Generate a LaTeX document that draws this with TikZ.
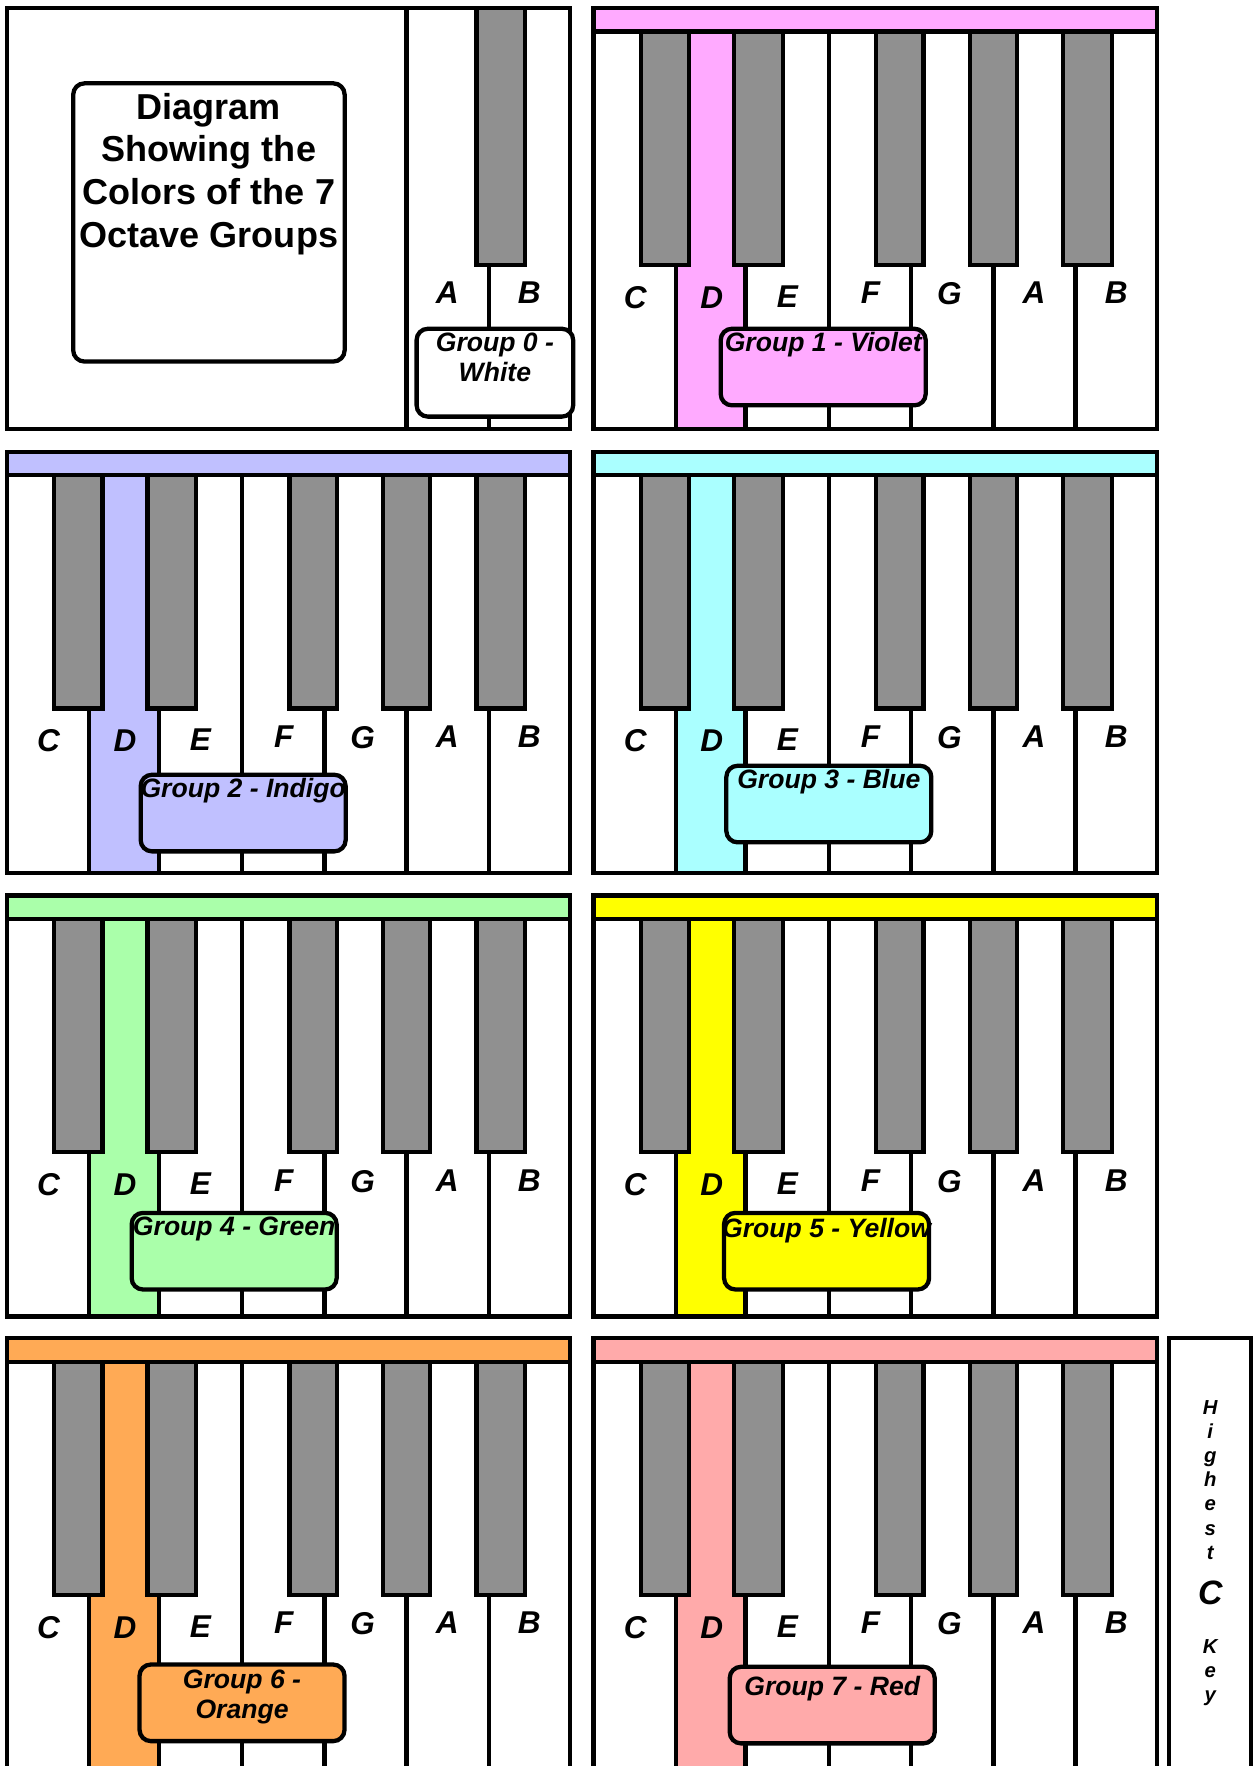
\documentclass[tikz,border=0pt]{standalone}
\usepackage{fontspec}
\setmainfont{Liberation Sans}
\usepackage{tikz}
\usetikzlibrary{positioning}

\definecolor{violetc}{HTML}{FFAAFF}
\definecolor{indigoc}{HTML}{C0C0FF}
\definecolor{bluec}{HTML}{AAFFFF}
\definecolor{greenc}{HTML}{AAFFAA}
\definecolor{yellowc}{HTML}{FFFF00}
\definecolor{orangec}{HTML}{FFAA55}
\definecolor{redc}{HTML}{FFAAAA}
\definecolor{keygray}{HTML}{909090}

\begin{document}
\begin{tikzpicture}[
  x=0.5pt, y=-0.5pt,
  ln/.style ={line width=1.9pt},
  bk/.style ={ln, fill=keygray},
  nt/.style ={font=\fontsize{14}{16}\selectfont\bfseries\itshape, inner sep=0pt},
  grp/.style={ln, rounded corners=5pt, anchor=north west, inner sep=0pt,
              minimum width=91pt, minimum height=34pt},
  gtxt/.style={font=\fontsize{11.8}{13.5}\selectfont\bfseries\itshape,
              align=center, inner sep=0pt},
  ttl/.style={font=\fontsize{16}{19}\selectfont\bfseries, align=center, inner sep=0pt},
  hk/.style ={font=\fontsize{9}{10.7}\selectfont\bfseries\itshape, align=center, inner sep=0pt}
]
\useasboundingbox (0,0) rectangle (1115,1568);
\fill[white] (0,0) rectangle (1115,1568);
\clip (0,0) rectangle (1115,1568);

%% group 0 panel (title + A, B)
\begin{scope}[shift={(6,7)}]
  \draw[ln, fill=white] (0,0) rectangle (500,374);
  \draw[ln] (355,0) -- (355,374);
  \draw[ln] (428,228) -- (428,374);
  \draw[bk] (417,0) rectangle (460,228);
  \node[nt] (p0-A) at (391,253) {A};
  \node[nt] (p0-B) at (464,253) {B};
  \node[ln, draw, fill=white, rounded corners=5pt, minimum width=120.5pt,
        minimum height=123.5pt] (ttlbox) at (179.5,190.5) {};
  \node[ttl, below=5pt of ttlbox.north] (ttl)
    {Diagram\\Showing the\\Colors of the 7\\Octave Groups};
  \node[grp, draw, fill=white, minimum width=69.5pt, minimum height=39pt]
    (boxp0) at (362,283) {};
  \node[gtxt, below=2.5pt of boxp0.north] (lblp0) {Group 0 -\\White};
\end{scope}

%% octave panels
\foreach \nm/\px/\py/\ph/\col/\bx/\by/\ty/\txt in {
    p1/527/7/374/violetc/111/283/2.5/{Group 1 - Violet},
    p2/6/401/374/indigoc/117/285/2.5/{Group 2 - Indigo},
    p3/527/401/374/bluec/116/277/2.5/{Group 3 - Blue},
    p4/6/795/374/greenc/109/280/2.5/{Group 4 - Green},
    p5/527/795/374/yellowc/114/280/3/{Group 5 - Yellow},
    p6/6/1188/420/orangec/116/288/3/{Group 6 -\\Orange},
    p7/527/1188/420/redc/119/290/5/{Group 7 - Red}}{
  \begin{scope}[shift={(\px,\py)}]
    \fill[white] (0,0) rectangle (500,\ph);
    \fill[\col] (73,21) rectangle (135,\ph);
    \foreach \d in {73,135,209,282,355,428}
      \draw[ln] (\d,21) -- (\d,\ph);
    \foreach \l/\r in {42/85,125/168,251/293,334/376,417/460}
      \draw[bk] (\l,21) rectangle (\r,228);
    \draw[ln, fill=\col] (0,0) rectangle (500,21);
    \draw[ln] (0,0) rectangle (500,\ph);
    \foreach \k/\lx/\ly in {C/37/257,D/105/257,E/172/256,F/246/253,
                            G/316/254,A/391/253,B/464/253}
      \node[nt] (\nm-\k) at (\lx,\ly) {\k};
    \node[grp, draw, fill=\col] (box\nm) at (\bx,\by) {};
    \node[gtxt, below=\ty pt of box\nm.north] (lbl\nm) {\txt};
  \end{scope}
}

%% highest C key
\draw[ln, fill=white] (1038,1188) rectangle (1111,1620);
\node[hk] (hst) at (1074.5,1314) {H\\i\\g\\h\\e\\s\\t};
\node[nt, font=\fontsize{15}{17}\selectfont\bfseries\itshape] (hc) at (1074.5,1414) {C};
\node[hk] (hkey) at (1074.5,1485) {K\\e\\y};
\end{tikzpicture}
\end{document}
